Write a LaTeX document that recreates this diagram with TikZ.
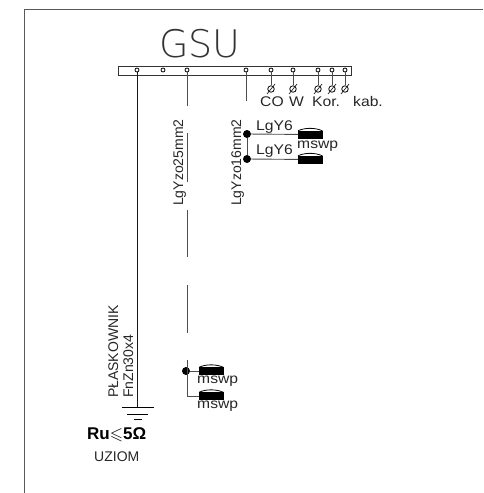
\documentclass[tikz,border=0pt]{standalone}
\usepackage{amssymb}
\usepackage{fontspec}
\setmainfont{Liberation Sans}
\newfontfamily\thinfont{DejaVu Sans ExtraLight}
\newfontfamily\cadfont[FakeStretch=1.12]{Liberation Sans}
\tikzset{
  cadtext/.style={inner sep=0pt,anchor=base west,font=\cadfont\fontsize{14}{14}\selectfont,text=black!85},
  cadup/.style={inner sep=0pt,anchor=base west,rotate=90,font=\fontsize{14}{14}\selectfont,text=black!85},
  socket/.style={circle,draw,fill=white,inner sep=0pt,minimum size=4pt,line width=.8pt},
  junction/.style={circle,fill=black,inner sep=0pt,minimum size=8pt},
  wire/.style={line width=.9pt,black!70},
  fuse/.style={draw,fill=black,inner sep=0pt,minimum width=24pt,minimum height=7pt},
  slash/.style={line width=.7pt,black!85}
}
\begin{document}
\begin{tikzpicture}[x=1pt,y=-1pt]
  \useasboundingbox (0,0) rectangle (483,493);
  % frame
  \coordinate (framea) at (24,493);
  \coordinate (frameb) at (24,9);
  \coordinate (framec) at (483,9);
  \draw[line width=1pt,black!65] (framea) -- (frameb) -- (framec);
  % bar
  \node[inner sep=0pt,font=\thinfont\fontsize{38}{38}\selectfont,text=black!80] (gsu) at (200,44) {GSU};
  \node[draw,black!80,line width=.8pt,minimum width=233pt,minimum height=9pt,inner sep=0pt] (bar) at (234.5,70.5) {};
  \foreach \name/\px in {pe/137,sa/163,sb/187,sc/246,sd/271,se/293,sf/318,sg/332,sh/345}
    \node[socket] (\name) at (\px,70) {};
  \draw[line width=1pt,black!90] (pe) -- (137,407) coordinate (earth);
  \draw[wire] (sb) -- (187,106);
  \draw[wire] (187,133) -- (187,182);
  \draw[wire] (187,210) -- (187,257);
  \draw[wire] (187,285) -- (187,333);
  \draw[wire] (sc) -- (246,101);
  % terminals
  \foreach \name/\px in {sd/271,se/293,sf/318,sg/332,sh/345} {
    \node[socket,minimum size=6.5pt,fill=none] (t\name) at (\px,89) {};
    \draw[wire] (\name) -- (t\name);
    \draw[slash] (\px-4,94) -- (\px+4,84);
  }
  \node[cadtext] (co) at (260,106) {CO};
  \node[cadtext] (w) at (289,106) {W};
  \node[cadtext] (kor) at (312,106) {Kor.};
  \node[cadtext] (kab) at (353,106) {kab.};
  % upper group
  \node[junction] (ja) at (247,134) {};
  \node[junction] (jb) at (247,159) {};
  \node[fuse,anchor=west] (fa) at (298,134.5) {};
  \node[fuse,anchor=west] (fb) at (298,159.5) {};
  \draw[wire] (ja) -- (jb);
  \draw[wire] (ja) -- (fa);
  \draw[wire] (jb) -- (fb);
  \draw[line width=.8pt] (fa.north west) .. controls (305,127.5) and (315,127.5) .. (fa.north east);
  \draw[line width=.8pt] (fb.north west) .. controls (305,152.5) and (315,152.5) .. (fb.north east);
  \node[cadtext] (lga) at (256,130) {LgY6};
  \node[cadtext] (lgb) at (256,154) {LgY6};
  \node[cadtext] (ma) at (297,148) {mswp};
  \node[cadup] (lgc) at (241,206) {LgYzo16mm2};
  \node[cadup] (lgd) at (183,206) {LgYzo25mm2};
  % lower group
  \node[junction] (jc) at (186,371) {};
  \node[fuse,anchor=west] (fc) at (199,371) {};
  \node[fuse,anchor=west] (fd) at (199,396) {};
  \coordinate (top) at (187,360);
  \draw[wire] (top) -- (187,396) -- (fd);
  \draw[wire] (jc) -- (fc);
  \draw[line width=.8pt] (fc.north west) .. controls (206,364) and (216,364) .. (fc.north east);
  \draw[line width=.8pt] (fd.north west) .. controls (206,389) and (216,389) .. (fd.north east);
  \node[cadtext] (mb) at (197,383) {mswp};
  \node[cadtext] (mc) at (197,408) {mswp};
  % earth
  \draw[line width=1pt] (122,407) -- (154,407);
  \draw[line width=1pt] (127,414) -- (148,414);
  \draw[line width=1pt] (134,419) -- (142,419);
  \node[cadup] (pl) at (118,398) {PŁASKOWNIK};
  \node[cadup] (fn) at (133,398) {FnZn30x4};
  \node[inner sep=0pt,anchor=base west,font=\bfseries\fontsize{17}{17}\selectfont] (ru) at (87,439) {Ru$\leqslant$5Ω};
  \node[cadtext,font=\fontsize{14}{14}\selectfont] (uz) at (94,461) {UZIOM};
\end{tikzpicture}
\end{document}
